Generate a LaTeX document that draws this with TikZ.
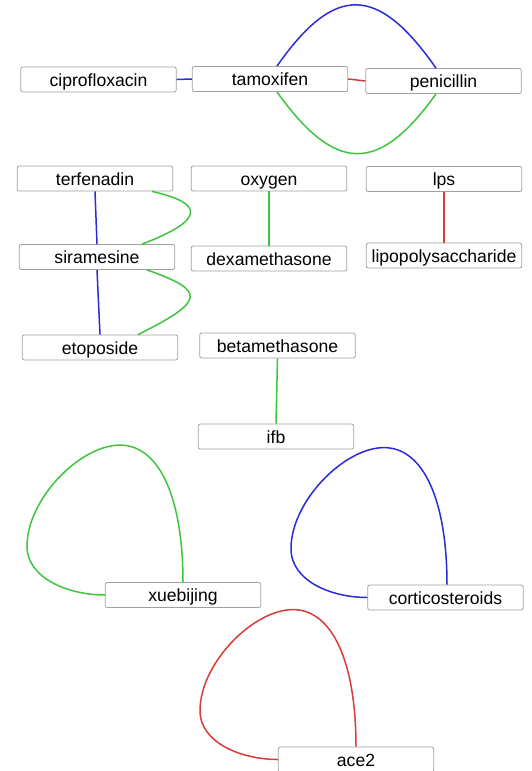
\documentclass[tikz,border=0pt]{standalone}
\usepackage{fontspec}
\setmainfont{Liberation Sans}
\definecolor{boxgray}{HTML}{A0A0A0}
\definecolor{edgeblue}{HTML}{2B2BD9}
\definecolor{edgegreen}{HTML}{3EC43E}
\definecolor{edgered}{HTML}{D93A3A}
\begin{document}
\begin{tikzpicture}[x=1pt,y=-1pt,
  box/.style={draw=boxgray, line width=0.8pt, rounded corners=2pt, fill=white,
    minimum width=155.5pt, minimum height=25pt, inner sep=0pt,
    text height=13pt, text depth=0pt, font=\fontsize{17.6}{20}\selectfont},
  link/.style={line width=1.5pt},
  bl/.style={link, draw=edgeblue},
  gr/.style={link, draw=edgegreen},
  rd/.style={link, draw=edgered},
  selfloop/.style={to path={.. controls +(0,-83) and +(40,0) .. ++(-63,-137)
    .. controls +(-40,0) and +(0,-47) .. ++(-93,101)
    .. controls +(0,33) and +(-35,0) .. (\tikztotarget)}}]
\useasboundingbox (0,0) rectangle (531,771);

% nodes
\node[box] (cipro) at (98.5,79.5) {ciprofloxacin};
\node[box] (tamox) at (270,79) {tamoxifen};
\node[box] (penic) at (443.5,81) {penicillin};
\node[box] (terf)  at (95,178.5) {terfenadin};
\node[box] (oxyg)  at (269,178.5) {oxygen};
\node[box] (lps)   at (444,179) {lps};
\node[box] (siram) at (97,257) {siramesine};
\node[box] (dexa)  at (269,258.5) {dexamethasone};
\node[box] (lipo)  at (444,255.5) {lipopolysaccharide};
\node[box] (etop)  at (100,347.5) {etoposide};
\node[box] (betam) at (277.5,345.5) {betamethasone};
\node[box] (ifb)   at (276,436.5) {ifb};
\node[box] (xueb)  at (183,595) {xuebijing};
\node[box] (corti) at (445.5,597.5) {corticosteroids};
\node[box] (ace)   at (356,759.5) {ace2};

% straight links
\draw[bl] (cipro.east) -- (tamox.west);
\draw[rd] (tamox.east) -- (penic.west);
\draw[bl] (terf.south) -- (siram.north);
\draw[bl] (siram.south) -- (etop.north);
\draw[gr] (oxyg.south) -- (dexa.north);
\draw[rd] (lps.south) -- (lipo.north);
\draw[gr] (betam.south) -- (ifb.north);

% curved links
\draw[bl] ([xshift=7pt]tamox.north) .. controls +(58,-83) and +(-58,-83) .. ([xshift=-7.5pt]penic.north);
\draw[gr] ([xshift=7pt]tamox.south) .. controls +(58,81) and +(-58,81) .. ([xshift=-7.5pt]penic.south);
\draw[gr] ([xshift=57pt]terf.south) .. controls +(53,12) and +(63,-24) .. ([xshift=45pt]siram.north);
\draw[gr] ([xshift=50pt]siram.south) .. controls +(59,21) and +(68,-34) .. ([xshift=38pt]etop.north);

% self loops
\draw[gr] (xueb.north) to[selfloop] (xueb.west);
\draw[bl] ([xshift=1.5pt]corti.north) to[selfloop] (corti.west);
\draw[rd] (ace.north) to[selfloop] (ace.west);
\end{tikzpicture}
\end{document}
